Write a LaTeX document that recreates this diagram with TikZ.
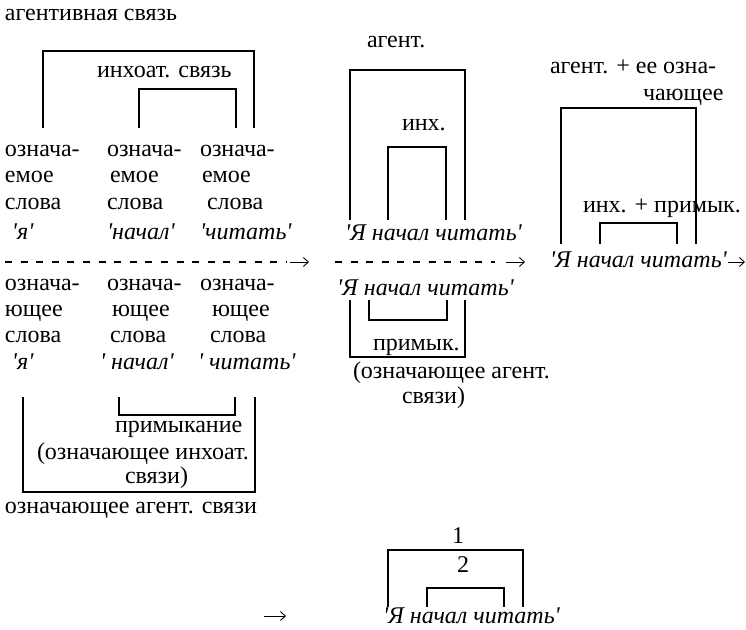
\documentclass[tikz,border=0pt]{standalone}
\usepackage{fontspec}
\usetikzlibrary{arrows.meta}
\setmainfont{Liberation Serif}[Ligatures=TeXOff]
\begin{document}
\begin{tikzpicture}[x=1pt,y=-1pt,
  txt/.style={anchor=base west, inner sep=0pt, outer sep=0pt, font=\fontsize{24}{26}\selectfont},
  itx/.style={txt, font=\fontsize{24}{26}\selectfont\itshape},
  brk/.style={line width=1.6pt},
  dsh/.style={line width=1.3pt, dash pattern=on 7pt off 8.6pt},
  arr/.style={line width=0.9pt, -{Straight Barb[length=5pt,width=9pt,line width=0.9pt]}}]
\useasboundingbox (0,0) rectangle (746,629);
\fill[white] (0,0) rectangle (746,629);

% ---------- upper left ----------
\node[txt] (agsv) at (5,20) {агентивная связь};
\node[txt] (inhsv) at (97,77) {инхоат. связь};
\coordinate (A1) at (43,128); \coordinate (A2) at (254,128);
\draw[brk] (A1) -- (43,51) -- (254,51) -- (A2);
\coordinate (B1) at (139,128); \coordinate (B2) at (236,128);
\draw[brk] (B1) -- (139,89) -- (236,89) -- (B2);

\node[txt] (u11) at (5,156) {означа-};
\node[txt] (u12) at (107,156) {означа-};
\node[txt] (u13) at (200,156) {означа-};
\node[txt] (u21) at (5,182) {емое};
\node[txt] (u22) at (110,182) {емое};
\node[txt] (u23) at (202,182) {емое};
\node[txt] (u31) at (5,209) {слова};
\node[txt] (u32) at (107,209) {слова};
\node[txt] (u33) at (207,209) {слова};
\node[itx] (u41) at (12,239) {'я'};
\node[itx] (u42) at (107,239) {'начал'};
\node[itx] (u43) at (200,239) {'читать'};

% ---------- dashed row ----------
\coordinate (d1s) at (5,262); \coordinate (d1e) at (286,262);
\draw[dsh] (d1s) -- (d1e);
\coordinate (a1s) at (290,262); \coordinate (a1e) at (309,262);
\draw[arr] (a1s) -- (a1e);
\coordinate (d2s) at (335,262); \coordinate (d2e) at (495,262);
\draw[dsh] (d2s) -- (d2e);
\coordinate (a2s) at (506,262); \coordinate (a2e) at (525,262);
\draw[arr] (a2s) -- (a2e);

% ---------- lower left ----------
\node[txt] (l11) at (5,290) {означа-};
\node[txt] (l12) at (107,290) {означа-};
\node[txt] (l13) at (200,290) {означа-};
\node[txt] (l21) at (5,316) {ющее};
\node[txt] (l22) at (112,316) {ющее};
\node[txt] (l23) at (212,316) {ющее};
\node[txt] (l31) at (5,342) {слова};
\node[txt] (l32) at (110,342) {слова};
\node[txt] (l33) at (210,342) {слова};
\node[itx] (l41) at (12,369) {'я'};
\node[itx] (l42) at (100,369) {' начал'};
\node[itx] (l43) at (198,369) {' читать'};

\coordinate (I1) at (23,397); \coordinate (I2) at (255,397);
\draw[brk] (I1) -- (23,492) -- (255,492) -- (I2);
\coordinate (J1) at (119,397); \coordinate (J2) at (235,397);
\draw[brk] (J1) -- (119,415) -- (235,415) -- (J2);
\node[txt] (prim) at (115,432) {примыкание};
\node[txt] (oznin) at (37,459) {(означающее инхоат.};
\node[txt] (svz1) at (125,483) {связи)};
\node[txt] (oznag) at (5,513) {означающее агент. связи};

% ---------- middle ----------
\node[txt] (agent) at (367,47) {агент.};
\node[txt] (inh) at (402,130) {инх.};
\coordinate (C1) at (350,220); \coordinate (C2) at (465,220);
\draw[brk] (C1) -- (350,70) -- (465,70) -- (C2);
\coordinate (D1) at (388,220); \coordinate (D2) at (446,220);
\draw[brk] (D1) -- (388,147) -- (446,147) -- (D2);
\node[itx] (m1) at (345,240) {'Я начал читать'};

\node[itx] (m2) at (337,295) {'Я начал читать'};
\coordinate (G1) at (350,300); \coordinate (G2) at (465,300);
\draw[brk] (G1) -- (350,357) -- (465,357) -- (G2);
\coordinate (H1) at (369,300); \coordinate (H2) at (447,300);
\draw[brk] (H1) -- (369,320) -- (447,320) -- (H2);
\node[txt] (primk) at (373,350) {примык.};
\node[txt] (oznag2) at (353,378) {(означающее агент.};
\node[txt] (svz2) at (402,403) {связи)};

% ---------- right ----------
\node[txt] (agee) at (550,73) {агент. + ее озна-};
\node[txt] (chayu) at (643,100) {чающее};
\coordinate (E1) at (561,244); \coordinate (E2) at (696,244);
\draw[brk] (E1) -- (561,108) -- (696,108) -- (E2);
\node[txt] (inhpr) at (583,212) {инх. + примык.};
\coordinate (F1) at (600,244); \coordinate (F2) at (677,244);
\draw[brk] (F1) -- (600,223) -- (677,223) -- (F2);
\node[itx] (r1) at (550,267) {'Я начал читать'};
\coordinate (a3e) at (745,262);
\draw[arr] (r1.base east) ++(1,-5) -- (a3e);

% ---------- bottom ----------
\node[txt] (n1) at (452,543) {1};
\node[txt] (n2) at (457,572) {2};
\coordinate (K1) at (388,607); \coordinate (K2) at (523,607);
\draw[brk] (K1) -- (388,550) -- (523,550) -- (K2);
\coordinate (L1) at (427,607); \coordinate (L2) at (504,607);
\draw[brk] (L1) -- (427,588) -- (504,588) -- (L2);
\coordinate (a4s) at (264,616); \coordinate (a4e) at (286,616);
\draw[arr] (a4s) -- (a4e);
\node[itx] (b1) at (383,623) {'Я начал читать'};
\end{tikzpicture}
\end{document}
